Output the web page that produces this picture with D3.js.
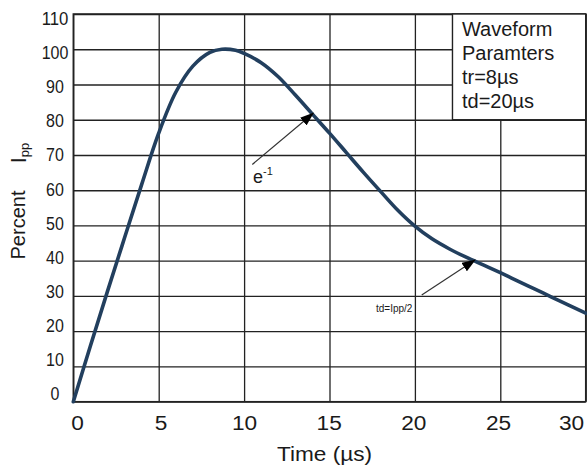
<!DOCTYPE html>
<html>
<head>
<meta charset="utf-8">
<script src="https://cdn.jsdelivr.net/npm/d3@7/dist/d3.min.js"></script>
<style>
  html, body { margin: 0; padding: 0; background: #fff; }
  svg { display: block; }
  text { font-family: "Liberation Sans", Arial, sans-serif; fill: #1a1a1a; }
</style>
</head>
<body>
<svg id="chart" width="587" height="470"></svg>
<script>
// ---- data ----
const timeUs = [0,1,2,3,4,5,6,7,8,8.7,9.5,10,11,12,13,14,15,16,17,18,19,20,21,22,23,24,25,26,27,28,29,30];
const percentIpp = [0,15.8,31.3,46.5,61.6,76.2,87.8,95.2,99.1,100,99.7,98.8,96.2,92.2,87,81.6,76.2,70.6,65,59.6,54.3,49.8,46.2,43.4,41,38.8,36.6,34.3,32,29.7,27.4,25.1];
const xTicks = [0,5,10,15,20,25,30];
const yTicks = [0,10,20,30,40,50,60,70,80,90,100,110];
const legendLines = ["Waveform","Paramters","tr=8\u00B5s","td=20\u00B5s"];
const annE = {tip:[14.05,81.85], tail:[10.48,67.3], label:[10.52,62.1]};
const annTd = {tip:[23.52,40.2], tail:[20.4,30.3], label:[17.72,25.5], text:"td=Ipp/2"};
const legendBox = {x0:22.2, x1:30, y0:80, y1:110};

// ---- scales ----
const svg = d3.select("#chart");
const x = d3.scaleLinear().domain([0,30]).range([73.3,585.7]);
const y = d3.scaleLinear().domain([0,110]).range([401.7,14]);
// label placement scales (labels sit slightly off the grid lines in the original)
const xLab = d3.scaleLinear().domain([0,10,25,30]).range([77,244,498,571]);
const yLab = d3.scaleLinear().domain([0,110]).range([393.5,18.5]);

const gridColor = "#222";

// vertical grid
const gx = svg.append("g").attr("transform",`translate(0,${y(0)})`)
  .call(d3.axisBottom(x).tickValues(xTicks).tickSize(-(y(0)-y(110))).tickFormat(""));
gx.select(".domain").remove();
gx.selectAll("line").attr("stroke",gridColor).attr("stroke-width",1.3);

// horizontal grid
const gy = svg.append("g").attr("transform",`translate(${x(0)},0)`)
  .call(d3.axisLeft(y).tickValues(yTicks).tickSize(-(x(30)-x(0))).tickFormat(""));
gy.select(".domain").remove();
gy.selectAll("line").attr("stroke",gridColor).attr("stroke-width",1.3);

// frame
svg.append("rect")
  .attr("x",x(0)).attr("y",y(110))
  .attr("width",x(30)-x(0)).attr("height",y(0)-y(110))
  .attr("fill","none").attr("stroke",gridColor).attr("stroke-width",1.5);

// tick labels
const lx = svg.append("g").attr("transform",`translate(0,${y(0)})`)
  .call(d3.axisBottom(xLab).tickValues(xTicks).tickSize(0).tickPadding(14).tickFormat(d3.format("d")));
lx.select(".domain").remove();
lx.selectAll("text").attr("font-size",20).style("font-family",'"Liberation Sans", Arial, sans-serif').attr("fill","#1a1a1a")
  .attr("textLength",function(d){return String(d).length*12.6;}).attr("lengthAdjust","spacingAndGlyphs");

const ly = svg.append("g").attr("transform",`translate(55,0)`)
  .call(d3.axisLeft(yLab).tickValues(yTicks).tickSize(0).tickPadding(0).tickFormat(d3.format("d")));
ly.select(".domain").remove();
ly.selectAll("text").attr("text-anchor","middle").attr("x",0)
  .attr("font-size",19).style("font-family",'"Liberation Sans", Arial, sans-serif').attr("fill","#1a1a1a")
  .attr("textLength",function(d){return String(d).length*8.9;}).attr("lengthAdjust","spacingAndGlyphs");

// legend box
svg.append("rect")
  .attr("x",x(legendBox.x0)).attr("y",y(legendBox.y1))
  .attr("width",x(legendBox.x1)-x(legendBox.x0)).attr("height",y(legendBox.y0)-y(legendBox.y1))
  .attr("fill","#fff").attr("stroke",gridColor).attr("stroke-width",1.4);
svg.append("g").selectAll("text").data(legendLines).join("text")
  .attr("x",x(legendBox.x0)+9.5)
  .attr("y",(d,i)=>y(legendBox.y1)+22+i*24)
  .attr("font-size",20)
  .text(d=>d);

// curve
const line = d3.line().x((d,i)=>x(timeUs[i])).y(d=>y(d)).curve(d3.curveCatmullRom.alpha(0.5));
svg.append("path").datum(percentIpp)
  .attr("d",line).attr("fill","none")
  .attr("stroke","#223f5e").attr("stroke-width",3.6).attr("stroke-linecap","round");

// arrows
const defs = svg.append("defs");
defs.append("marker").attr("id","arrow").attr("viewBox","0 0 14 10")
  .attr("refX",13).attr("refY",5).attr("markerWidth",14).attr("markerHeight",10)
  .attr("markerUnits","userSpaceOnUse").attr("orient","auto")
  .append("path").attr("d","M0,0 L14,5 L0,10 Z").attr("fill","#000");

[annE, annTd].forEach(a=>{
  svg.append("line")
    .attr("x1",x(a.tail[0])).attr("y1",y(a.tail[1]))
    .attr("x2",x(a.tip[0])).attr("y2",y(a.tip[1]))
    .attr("stroke","#333").attr("stroke-width",1.2)
    .attr("marker-end","url(#arrow)");
});

const eText = svg.append("text").attr("x",x(annE.label[0])).attr("y",y(annE.label[1])).attr("font-size",18);
eText.append("tspan").text("e");
eText.append("tspan").attr("font-size",11).attr("dy",-8).text("-1");

svg.append("text").attr("x",x(annTd.label[0])).attr("y",y(annTd.label[1]))
  .attr("font-size",10).text(annTd.text);

// axis titles
svg.append("text").attr("x",324.5).attr("y",461).attr("text-anchor","middle")
  .attr("font-size",20).attr("textLength",95).attr("lengthAdjust","spacingAndGlyphs")
  .text("Time (\u00B5s)");

svg.append("text").attr("transform","translate(25,225) rotate(-90)")
  .attr("text-anchor","middle").attr("font-size",20).text("Percent");

const ipp = svg.append("text").attr("transform","translate(26,153) rotate(-90)")
  .attr("text-anchor","middle").attr("font-size",22);
ipp.append("tspan").text("I");
ipp.append("tspan").attr("font-size",13).attr("dy",3).text("pp");
</script>
</body>
</html>
